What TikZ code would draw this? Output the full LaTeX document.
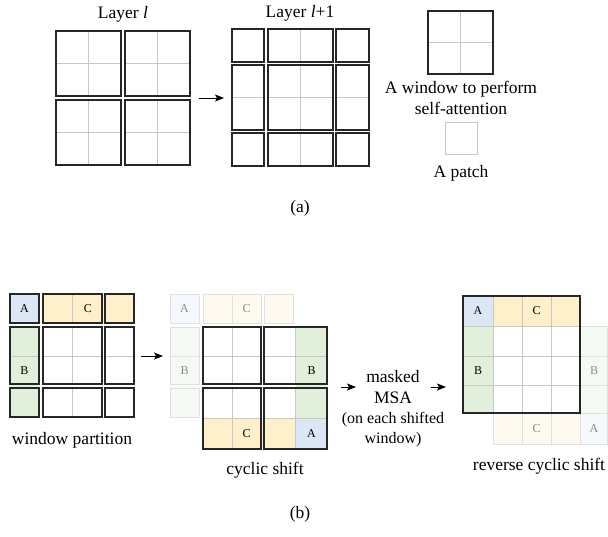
\documentclass[tikz,border=0pt]{standalone}
\usepackage{fontspec}
\setmainfont{Liberation Serif}
\usetikzlibrary{arrows.meta}
\definecolor{cellA}{HTML}{DCE7F5}
\definecolor{cellB}{HTML}{E2EFDA}
\definecolor{cellC}{HTML}{FFF0CC}
\begin{document}
\begin{tikzpicture}[
        x=0.5pt,y=-0.5pt,
        font=\fontsize{8.75}{10.5}\selectfont
    ]
    \tikzset{
        winbox/.style = {draw=black!85, line width=0.6pt},
        patchline/.style = {draw=black!22, line width=0.5pt},
        fadeline/.style = {draw=black!12, line width=0.5pt},
        lbl/.style = {font=\fontsize{6}{7}\selectfont, inner sep=0pt},
        fadelbl/.style = {lbl, text=black!45},
        arr/.style = {-{Stealth[length=4.5pt,width=3.5pt,inset=1pt]}, line width=0.5pt},
        note/.style = {align=center, inner sep=0pt},
    }
    \useasboundingbox (0,0) rectangle (608,536);
    % (a) layer l
    \foreach \x in {56,125} \foreach \y in {31,100} {
        \draw[patchline] (\x+32.5,\y) -- (\x+32.5,\y+65) (\x,\y+32.5) -- (\x+65,\y+32.5);
        \draw[winbox] (\x,\y) rectangle +(65,65);
    }
    \node[note] (layerl) at (123,14) {Layer \textit{l}};
    % (a) layer l+1
    \foreach \y/\h in {29/33,65/65,133/33} \draw[patchline] (300.5,\y) -- +(0,\h);
    \foreach \x/\w in {232/32,268/65,336/33} \draw[patchline] (\x,97.5) -- +(\w,0);
    \foreach \x/\w in {232/32,268/65,336/33} \foreach \y/\h in {29/33,65/65,133/33}
        \draw[winbox] (\x,\y) rectangle +(\w,\h);
    \node[note] (layerl1) at (300,13) {Layer \textit{l}+1};
    \coordinate (a1s) at (199,98);
    \coordinate (a1e) at (224,98);
    \draw[arr] (a1s) -- (a1e);
    % legend
    \draw[patchline] (460.5,11) -- (460.5,74) (428,42.5) -- (493,42.5);
    \draw[winbox] (428,11) rectangle (493,74);
    \node[note] (wintext) at (461,98) {A window to perform\\self-attention};
    \draw[patchline] (445,122) rectangle (477,154);
    \node[note] (patchtext) at (461,173) {A patch};
    \node[note] (capa) at (300,208) {(a)};
    % (b) window partition
    \fill[cellA] (10,294) rectangle (39,323);
    \fill[cellC] (43,294) rectangle (134,323);
    \fill[cellB] (10,327) rectangle (39,417);
    \foreach \y/\h in {294/29,327/57,388/29} \draw[patchline] (72.5,\y) -- +(0,\h);
    \foreach \x/\w in {10/29,43/59,105/29} \draw[patchline] (\x,356) -- +(\w,0);
    \foreach \x/\w in {10/29,43/59,105/29} \foreach \y/\h in {294/29,327/57,388/29}
        \draw[winbox] (\x,\y) rectangle +(\w,\h);
    \node[lbl] (wpA) at (24.5,308.5) {A};
    \node[lbl] (wpC) at (87.75,308.5) {C};
    \node[lbl] (wpB) at (24.5,370.5) {B};
    \node[note] (wptext) at (72,440) {window partition};
    \coordinate (a2s) at (141,356);
    \coordinate (a2e) at (163,356);
    \draw[arr] (a2s) -- (a2e);
    % (b) cyclic shift
    \fill[cellA!30] (170,294) rectangle (199,323);
    \fill[cellC!30] (203,294) rectangle (261,323) (264,294) rectangle (293,323);
    \fill[cellB!30] (170,327) rectangle (199,417);
    \draw[fadeline] (170,294) rectangle (199,323) (203,294) rectangle (261,323)
        (264,294) rectangle (293,323) (170,327) rectangle (199,384)
        (170,388) rectangle (199,417) (232,294) -- (232,323) (170,356) -- (199,356);
    \node[fadelbl] (csfA) at (184.5,308.5) {A};
    \node[fadelbl] (csfC) at (246.5,308.5) {C};
    \node[fadelbl] (csfB) at (184.5,370.5) {B};
    \fill[cellB] (296,327) rectangle (327,418);
    \fill[cellC] (203,418) rectangle (296,449);
    \fill[cellA] (296,418) rectangle (327,449);
    \foreach \x/\w in {203/58,264/63} {
        \draw[patchline] (\x+\w/2,327) -- +(0,57) (\x,356) -- +(\w,0);
        \draw[winbox] (\x,327) rectangle +(\w,57);
        \draw[patchline] (\x+\w/2,388) -- +(0,61) (\x,418) -- +(\w,0);
        \draw[winbox] (\x,388) rectangle +(\w,61);
    }
    \node[lbl] (csB) at (311.5,370.5) {B};
    \node[lbl] (csC) at (246.5,433.5) {C};
    \node[lbl] (csA) at (311.5,433.5) {A};
    \node[note] (cstext) at (265,470) {cyclic shift};
    % (b) masked MSA
    \coordinate (a3s) at (341,387);
    \coordinate (a3e) at (356,387);
    \draw[arr] (a3s) -- (a3e);
    \node[note] (msatext) at (393,387.5) {masked\\MSA};
    \node[note, font=\fontsize{8}{10}\selectfont] (msanote) at (393,430) {(on each shifted\\window)};
    \coordinate (a4s) at (431,387);
    \coordinate (a4e) at (446,387);
    \draw[arr] (a4s) -- (a4e);
    % (b) reverse cyclic shift
    \fill[cellA] (463,296) rectangle (493,326);
    \fill[cellC] (493,296) rectangle (580,326);
    \fill[cellB] (463,326) rectangle (493,413);
    \fill[cellB!30] (580,326) rectangle (608,413);
    \fill[cellC!30] (493,413) rectangle (580,444);
    \fill[cellA!30] (580,413) rectangle (608,444);
    \draw[fadeline] (580,326) rectangle (607.5,444) (493,413) rectangle (580,444)
        (580,356) -- (607.5,356) (580,385) -- (607.5,385) (580,413) -- (607.5,413)
        (522,413) -- (522,444) (551,413) -- (551,444);
    \foreach \x in {493,522,551} \draw[patchline] (\x,296) -- (\x,413);
    \foreach \y in {326,356,385} \draw[patchline] (463,\y) -- (580,\y);
    \draw[winbox] (463,296) rectangle (580,413);
    \node[lbl] (rcA) at (478,311) {A};
    \node[lbl] (rcC) at (536.5,311) {C};
    \node[lbl] (rcB) at (478,370.5) {B};
    \node[fadelbl] (rcfB) at (594,370.5) {B};
    \node[fadelbl] (rcfC) at (536.5,428.5) {C};
    \node[fadelbl] (rcfA) at (594,428.5) {A};
    \node[note] (rctext) at (539,466) {reverse cyclic shift};
    \node[note] (capb) at (300,514) {(b)};
\end{tikzpicture}
\end{document}
